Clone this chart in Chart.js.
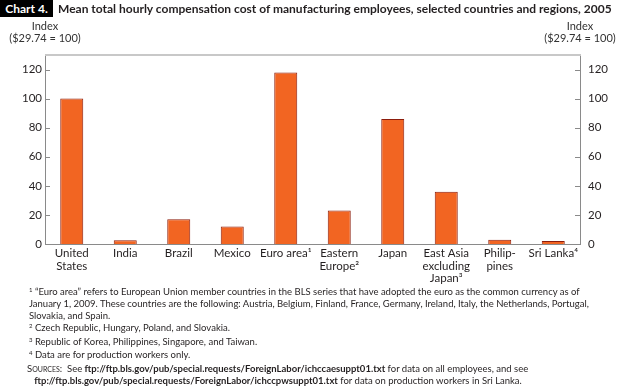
<!DOCTYPE html>
<html>
<head>
  <title>Chart 4. Mean total hourly compensation cost</title>
  <script src="https://cdn.jsdelivr.net/npm/chart.js"></script>
  <style>
    body { margin: 0; background: #fff; }
    #wrap { position: relative; width: 640px; height: 390px; overflow: hidden; font-family: Lato, "Open Sans", sans-serif; color: #231f20; }
    #myChart { position: absolute; left: 0; top: 0; }
    .abs { position: absolute; white-space: nowrap; }
    #badge { left: 0; top: 0; height: 17px; width: 53px; background: #000; color: #fff; font-weight: bold; font-size: 12px; line-height: 17px; text-align: center; }
    #title { left: 58px; top: 0; font-weight: bold; font-size: 12px; line-height: 17px; }
    .idx { font-size: 11px; line-height: 12px; text-align: center; width: 80px; color: #333; }
    .note { left: 29px; font-size: 9.5px; line-height: 12px; }
    sup { font-size: 6px; vertical-align: 3px; }
    .sc { font-variant: small-caps; }
  </style>
</head>
<body>
<div id="wrap">
  <canvas id="myChart" width="640" height="390"></canvas>
  <div class="abs" id="badge">Chart 4.</div>
  <div class="abs" id="title">Mean total hourly compensation cost of manufacturing employees, selected countries and regions, 2005</div>
  <div class="abs idx" style="left:5px; top:20px;">Index<br>($29.74 = 100)</div>
  <div class="abs idx" style="left:540px; top:20px;">Index<br>($29.74 = 100)</div>
  <div class="abs note" style="top:284px;"><sup>1</sup> “Euro area” refers to European Union member countries in the BLS series that have adopted the euro as the common currency as of<br>January 1, 2009. These countries are the following: Austria, Belgium, Finland, France, Germany, Ireland, Italy, the Netherlands, Portugal,<br>Slovakia, and Spain.</div>
  <div class="abs note" style="top:320px;"><sup>2</sup> Czech Republic, Hungary, Poland, and Slovakia.</div>
  <div class="abs note" style="top:334px;"><sup>3</sup> Republic of Korea, Philippines, Singapore, and Taiwan.</div>
  <div class="abs note" style="top:347px;"><sup>4</sup> Data are for production workers only.</div>
  <div class="abs note" style="top:363px; left:27px;"><span class="sc">Sources</span>:&nbsp; See <b>ftp://ftp.bls.gov/pub/special.requests/ForeignLabor/ichccaesuppt01.txt</b> for data on all employees, and see<br>&nbsp;&nbsp;&nbsp;<b>ftp://ftp.bls.gov/pub/special.requests/ForeignLabor/ichccpwsuppt01.txt</b> for data on production workers in Sri Lanka.</div>
</div>

<script>
  // categories (multi-line labels) and index values, US = 100
  let labels = [
    ['United', 'States'],
    'India',
    'Brazil',
    'Mexico',
    'Euro area¹',
    ['Eastern', 'Europe²'],
    'Japan',
    ['East Asia', 'excluding', 'Japan³'],
    ['Philip-', 'pines'],
    'Sri Lanka⁴'
  ];
  let values = [100, 2.5, 17, 12, 118, 23, 86, 36, 3, 2];
  let yTicks = [0, 20, 40, 60, 80, 100, 120];

  let textColor = '#231f20';
  let axisColor = '#8a8a8a';

  // frame extras: light top border and short inward tick marks
  let framePlugin = {
    id: 'frame',
    afterDraw(chart) {
      let ctx = chart.ctx;
      let a = chart.chartArea;
      ctx.save();
      ctx.strokeStyle = '#c8c8c8';
      ctx.lineWidth = 2;
      ctx.beginPath();
      ctx.moveTo(a.left, a.top);
      ctx.lineTo(a.right + 1, a.top);
      ctx.stroke();
      ctx.strokeStyle = axisColor;
      ctx.lineWidth = 1;
      let yl = chart.scales.y;
      yTicks.forEach(function (t) {
        if (t === 0) return;
        let py = Math.round(yl.getPixelForValue(t)) + 0.5;
        ctx.beginPath();
        ctx.moveTo(a.left, py);
        ctx.lineTo(a.left + 5, py);
        ctx.moveTo(a.right, py);
        ctx.lineTo(a.right - 5, py);
        ctx.stroke();
      });
      ctx.restore();
    }
  };

  let ctx = document.getElementById('myChart').getContext('2d');
  let myChart = new Chart(ctx, {
    type: 'bar',
    data: {
      labels: labels,
      datasets: [{
        data: values,
        backgroundColor: '#f26522',
        borderColor: '#8c1d0c',
        borderWidth: { top: 1, right: 1, left: 1, bottom: 0 },
        borderSkipped: 'bottom',
        barPercentage: 0.43,
        categoryPercentage: 1
      }]
    },
    options: {
      responsive: false,
      animation: false,
      layout: { padding: { left: 0, right: 0, top: 55, bottom: 96 } },
      plugins: { legend: { display: false }, tooltip: { enabled: false } },
      scales: {
        x: {
          grid: { display: false, drawTicks: false },
          border: { color: axisColor, width: 1 },
          ticks: {
            color: textColor,
            font: { family: 'Lato', size: 11.5, lineHeight: 1.1 },
            padding: 3,
            maxRotation: 0,
            autoSkip: false
          },
          afterFit(scale) { scale.height = 50; }
        },
        y: {
          position: 'left',
          min: 0,
          max: 130,
          afterBuildTicks(scale) { scale.ticks = yTicks.map(v => ({ value: v })); },
          grid: { display: false, drawTicks: false },
          border: { color: axisColor, width: 1 },
          ticks: { color: textColor, font: { family: 'Lato', size: 11.5 }, padding: 3 },
          afterFit(scale) { scale.width = 45; }
        },
        y2: {
          position: 'right',
          min: 0,
          max: 130,
          afterBuildTicks(scale) { scale.ticks = yTicks.map(v => ({ value: v })); },
          grid: { display: false, drawTicks: false },
          border: { color: axisColor, width: 1 },
          ticks: { color: textColor, font: { family: 'Lato', size: 11.5 }, padding: 8 },
          afterFit(scale) { scale.width = 60; }
        }
      }
    },
    plugins: [framePlugin]
  });
</script>
</body>
</html>
